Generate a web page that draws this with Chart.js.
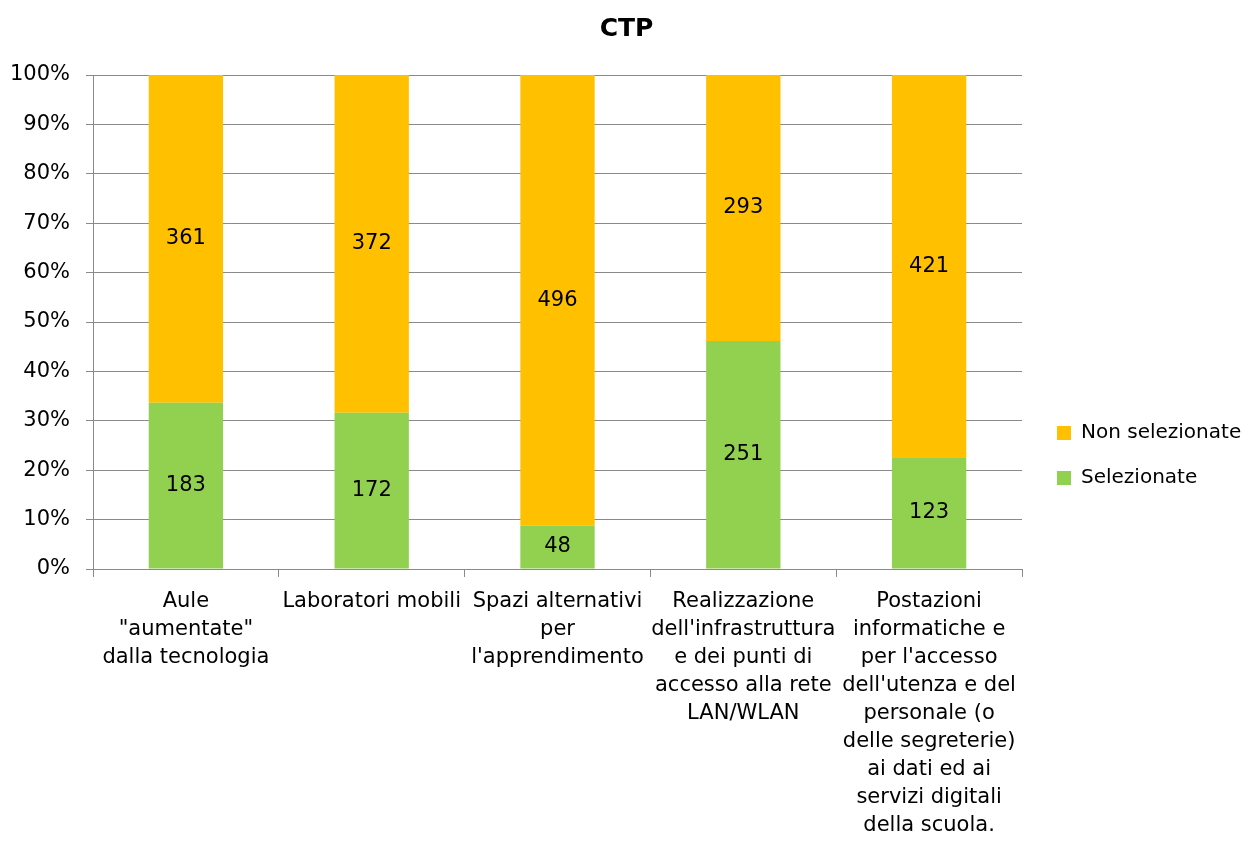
<!DOCTYPE html>
<html>
<head>
<meta charset="utf-8">
<script src="https://cdn.jsdelivr.net/npm/chart.js@4"></script>
<style>
  html, body { margin: 0; padding: 0; background: #fff; }
  #wrap { width: 1253px; height: 843px; }
</style>
</head>
<body>
<div id="wrap"><canvas id="grafico" width="1253" height="843"></canvas></div>
<script>
const categorie = [
    ['Aule', '"aumentate"', 'dalla tecnologia'],
    ['Laboratori mobili'],
    ['Spazi alternativi', 'per', "l'apprendimento"],
    ['Realizzazione', "dell'infrastruttura", 'e dei punti di', 'accesso alla rete', 'LAN/WLAN'],
    ['Postazioni', 'informatiche e', "per l'accesso", "dell'utenza e del", 'personale (o', 'delle segreterie)', 'ai dati ed ai', 'servizi digitali', 'della scuola.']
];
const selezionate = [183, 172, 48, 251, 123];
const nonSelezionate = [361, 372, 496, 293, 421];
const tickPercentuali = [0, 10, 20, 30, 40, 50, 60, 70, 80, 90, 100];

const FONT = "'DejaVu Sans', Verdana, sans-serif";
const griglia = '#8a8a8a';

// percentuali calcolate dai conteggi (grafico in pila al 100%)
const pctSel = selezionate.map((v, i) => v / (v + nonSelezionate[i]) * 100);
const pctNon = nonSelezionate.map((v, i) => v / (v + selezionate[i]) * 100);

const conteggi = [selezionate, nonSelezionate];

// etichette dei valori al centro di ogni segmento
const etichette = {
    id: 'etichette',
    afterDatasetsDraw(chart) {
        const ctx = chart.ctx;
        ctx.save();
        ctx.font = '21px ' + FONT;
        ctx.fillStyle = '#000';
        ctx.textAlign = 'center';
        ctx.textBaseline = 'middle';
        chart.data.datasets.forEach((ds, d) => {
            chart.getDatasetMeta(d).data.forEach((bar, i) => {
                ctx.fillText(conteggi[d][i], bar.x, (bar.y + bar.base) / 2);
            });
        });
        ctx.restore();
    }
};

// legenda un po' staccata dal grafico e spostata in basso, come in Excel
const spostaLegenda = {
    id: 'spostaLegenda',
    afterInit(chart) {
        const legend = chart.legend;
        const fit = legend.fit.bind(legend);
        legend.fit = function () {
            fit();
            this.width = Math.max(this.width, 231);
        };
        const draw = legend.draw.bind(legend);
        legend.draw = function () {
            const ctx = this.ctx;
            ctx.save();
            ctx.translate(10, 34);
            draw();
            ctx.restore();
        };
    }
};

new Chart(document.getElementById('grafico'), {
    type: 'bar',
    data: {
        labels: categorie,
        datasets: [
            {
                label: 'Selezionate',
                data: pctSel,
                backgroundColor: '#92D050',
                barPercentage: 0.4,
                categoryPercentage: 1
            },
            {
                label: 'Non selezionate',
                data: pctNon,
                backgroundColor: '#FFC000',
                barPercentage: 0.4,
                categoryPercentage: 1
            }
        ]
    },
    options: {
        responsive: false,
        animation: false,
        layout: { padding: 0 },
        scales: {
            x: {
                stacked: true,
                afterFit(scale) {
                    scale.height = 274;
                },
                grid: {
                    offset: true,
                    drawOnChartArea: false,
                    drawTicks: true,
                    tickLength: 8,
                    color: griglia
                },
                border: { color: griglia },
                ticks: {
                    color: '#000',
                    font: { family: FONT, size: 21, lineHeight: 1.333 },
                    maxRotation: 0,
                    autoSkip: false,
                    padding: 11
                }
            },
            y: {
                stacked: true,
                min: 0,
                max: 100,
                afterBuildTicks(scale) {
                    scale.ticks = tickPercentuali.map(v => ({ value: v }));
                },
                afterFit(scale) {
                    scale.width = 93;
                },
                grid: {
                    color: griglia,
                    drawTicks: true,
                    tickLength: 7
                },
                border: { color: griglia },
                ticks: {
                    color: '#000',
                    font: { family: FONT, size: 21 },
                    padding: 16,
                    callback: v => v + '%'
                }
            }
        },
        plugins: {
            title: {
                display: true,
                text: 'CTP',
                color: '#000',
                font: { family: FONT, size: 25, weight: 'bold' },
                padding: { top: 14, bottom: 31 }
            },
            legend: {
                position: 'right',
                reverse: true,
                labels: {
                    color: '#000',
                    font: { family: FONT, size: 20 },
                    boxWidth: 14,
                    boxHeight: 14,
                    padding: 25
                }
            },
            tooltip: { enabled: false }
        }
    },
    plugins: [etichette, spostaLegenda]
});
</script>
</body>
</html>
